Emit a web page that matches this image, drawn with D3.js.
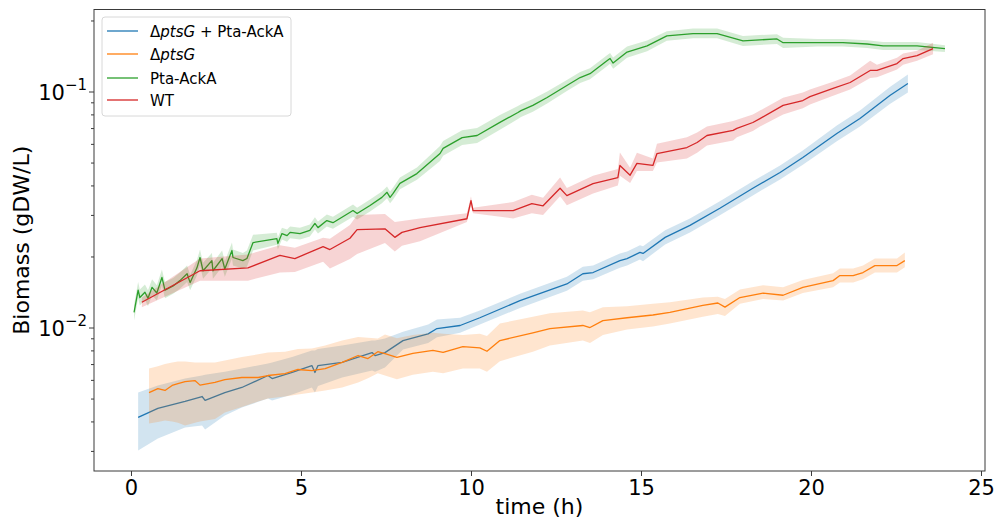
<!DOCTYPE html>
<html><head><meta charset="utf-8">
<script src="https://d3js.org/d3.v7.min.js"></script>
<style>body{margin:0;background:#fff}svg{display:block;font-family:"DejaVu Sans",sans-serif}</style>
</head><body><svg id="c" width="995" height="520"></svg>
<script>
// ---- data ----
const seriesNames = ["ΔptsG + Pta-AckA", "ΔptsG", "Pta-AckA", "WT"];
const colors = ["#1f77b4", "#ff7f0e", "#2ca02c", "#d62728"];
const xTicks = [0, 5, 10, 15, 20, 25];
const yTicks = [0.01, 0.1];
const yTickLabels = ["−2", "−1"];

const tBlue  = [0.21,0.79,1.59,2.09,2.18,2.76,3.26,4.03,4.15,4.74,5.32,5.41,5.5,6.21,7.09,7.18,7.47,8.0,8.74,9.0,9.68,10.26,11.44,12.82,13.29,13.59,14.38,14.59,14.97,15.06,15.71,16.44,17.32,18.29,19.09,19.76,20.76,21.44,22.32,22.85];
const vBlue  = [0.00416,0.00454,0.00486,0.00510,0.00491,0.00530,0.00557,0.00626,0.00608,0.00645,0.00690,0.00645,0.00690,0.00711,0.00783,0.00761,0.00783,0.0088,0.0094,0.0099,0.0102,0.0110,0.0130,0.0153,0.0169,0.0171,0.0192,0.0196,0.0208,0.0206,0.0241,0.0271,0.0320,0.0389,0.0454,0.0525,0.0664,0.0768,0.0962,0.1081];
const loBlue = [0.00301,0.00339,0.00377,0.00384,0.00370,0.00424,0.00458,0.00500,0.00491,0.00520,0.00557,0.00530,0.00565,0.00614,0.00657,0.00650,0.00677,0.00807,0.0086,0.0091,0.0095,0.0103,0.0121,0.0143,0.0158,0.0160,0.0179,0.0183,0.0194,0.0191,0.0225,0.0253,0.0299,0.0363,0.0424,0.0490,0.0615,0.0710,0.0885,0.0990];
const hiBlue = [0.00530,0.00568,0.00608,0.00626,0.00630,0.00650,0.00670,0.00704,0.00711,0.00750,0.00799,0.0080,0.0081,0.00839,0.0088,0.0088,0.00898,0.0096,0.0103,0.0108,0.0110,0.0118,0.0139,0.0164,0.0181,0.0183,0.0206,0.0210,0.0223,0.0221,0.0258,0.0290,0.0343,0.0417,0.0486,0.0562,0.0717,0.0830,0.1045,0.1180];

const tOrange  = [0.53,0.79,1.0,1.21,1.38,1.59,1.88,2.03,2.47,2.76,3.26,3.74,4.03,4.53,4.91,5.32,5.71,6.21,6.68,6.97,7.26,7.47,7.82,8.29,8.88,9.18,9.76,10.26,10.47,10.85,11.82,12.32,13.29,13.5,13.88,14.59,15.35,15.85,16.82,17.26,17.47,17.91,18.59,19.18,19.76,20.65,20.85,21.24,21.53,21.88,22.53,22.76];
const vOrange  = [0.00530,0.00551,0.00541,0.00568,0.00579,0.00590,0.00596,0.00570,0.00585,0.00602,0.00614,0.00614,0.00626,0.00638,0.00664,0.00657,0.00670,0.00711,0.00761,0.00739,0.00790,0.00775,0.00748,0.00777,0.0080,0.00785,0.0083,0.0082,0.00793,0.0088,0.0095,0.0099,0.0102,0.0100,0.0107,0.0110,0.0113,0.0116,0.0124,0.0127,0.0122,0.0134,0.0140,0.0137,0.0148,0.0158,0.0166,0.0166,0.0171,0.0183,0.0183,0.0192];
const loOrange = [0.00392,0.00398,0.00404,0.00400,0.00395,0.00384,0.00395,0.00400,0.00410,0.00436,0.00460,0.00486,0.00500,0.00510,0.00520,0.00530,0.00541,0.00557,0.00585,0.00610,0.00640,0.00626,0.00604,0.0063,0.0065,0.0064,0.0067,0.0067,0.0065,0.0072,0.0079,0.0084,0.0088,0.0086,0.0093,0.0098,0.0101,0.0104,0.0111,0.0114,0.0112,0.0126,0.0132,0.0130,0.0140,0.0148,0.0155,0.0155,0.0160,0.0171,0.0171,0.0180];
const hiOrange = [0.00670,0.00685,0.00700,0.00710,0.00718,0.00718,0.00711,0.00711,0.00711,0.00725,0.00750,0.00770,0.00783,0.00790,0.00810,0.00815,0.00839,0.00881,0.00911,0.00905,0.00898,0.00933,0.0090,0.0093,0.0095,0.0094,0.0093,0.0094,0.0092,0.0104,0.0111,0.0115,0.0118,0.0116,0.0122,0.0123,0.0126,0.0128,0.0134,0.0135,0.0132,0.0145,0.0151,0.0148,0.0159,0.0170,0.0178,0.0178,0.0183,0.0196,0.0196,0.0208];

const tGreen  = [0.09,0.21,0.26,0.41,0.50,0.62,0.76,0.91,1.00,1.24,1.44,1.65,1.74,1.94,2.03,2.12,2.38,2.41,2.68,2.76,2.97,3.0,3.29,3.41,3.59,
                 4.29,4.32,4.44,4.59,4.68,4.97,5.26,5.41,5.5,5.76,5.94,6.53,6.65,7.03,7.38,7.53,7.62,7.71,7.91,8.41,
                 9.09,9.18,9.74,10.18,10.85,11.38,11.47,11.82,12.24,
                 12.82,13.21,13.5,14.0,14.09,14.18,14.59,15.18,15.76,16.53,17.24,18.0,19.0,19.18,20.18,20.94,21.65,22.12,23.12,23.94];
const vGreen  = [0.0116,0.0144,0.0134,0.0141,0.0133,0.0148,0.0140,0.0163,0.0144,0.0150,0.0158,0.0169,0.0155,0.0179,0.0198,0.0174,0.0192,0.0174,0.0196,0.0177,0.0212,0.0198,0.0192,0.0196,0.0229,
                 0.0238,0.0227,0.0250,0.0245,0.0253,0.0250,0.0258,0.0276,0.0265,0.0284,0.0278,0.0313,0.0304,0.0329,0.0356,0.0374,0.0356,0.0370,0.0408,0.0449,
                 0.0546,0.0574,0.0638,0.0651,0.0740,0.0815,0.0830,0.0873,0.0943,
                 0.106,0.1146,0.119,0.135,0.138,0.132,0.147,0.156,0.172,0.176,0.176,0.164,0.167,0.161,0.161,0.161,0.159,0.156,0.156,0.152];
const loGreen = [0.0107,0.0133,0.0124,0.0131,0.0123,0.0137,0.0130,0.0151,0.0133,0.0139,0.0146,0.0156,0.0144,0.0166,0.0183,0.0161,0.0178,0.0161,0.0181,0.0164,0.0196,0.0183,0.0178,0.0181,0.0212,
                 0.0224,0.0214,0.0236,0.0231,0.0239,0.0236,0.0243,0.0260,0.0250,0.0268,0.0262,0.0295,0.0287,0.0310,0.0336,0.0353,0.0336,0.0349,0.0385,0.0423,
                 0.0508,0.0534,0.0593,0.0605,0.0688,0.0765,0.0780,0.0820,0.0890,
                 0.1005,0.1086,0.1128,0.128,0.131,0.125,0.139,0.148,0.164,0.168,0.168,0.156,0.159,0.153,0.155,0.155,0.153,0.150,0.150,0.147];
const hiGreen = [0.0125,0.0156,0.0145,0.0152,0.0144,0.0160,0.0151,0.0176,0.0156,0.0162,0.0171,0.0183,0.0167,0.0193,0.0214,0.0188,0.0207,0.0188,0.0212,0.0191,0.0229,0.0214,0.0207,0.0212,0.0247,
                 0.0252,0.0241,0.0265,0.0260,0.0268,0.0265,0.0273,0.0293,0.0281,0.0301,0.0295,0.0332,0.0322,0.0349,0.0377,0.0396,0.0377,0.0392,0.0432,0.0476,
                 0.0587,0.0617,0.0686,0.0700,0.0796,0.0868,0.0883,0.0930,0.0999,
                 0.1118,0.1209,0.1255,0.1424,0.1456,0.1393,0.155,0.1646,0.180,0.185,0.185,0.172,0.175,0.169,0.167,0.167,0.165,0.162,0.162,0.157];

const tRed  = [0.32,2.03,3.44,4.38,4.82,5.65,5.85,6.44,6.65,7.47,7.76,7.97,8.5,9.88,10.0,10.06,11.24,11.79,12.12,12.62,12.82,13.59,14.32,14.38,14.68,14.88,15.35,15.47,16.35,16.65,16.94,17.71,17.82,18.29,18.5,19.18,19.76,19.97,20.65,21.15,21.74,21.94,22.53,22.71,23.12,23.59];
const vRed  = [0.0128,0.0174,0.0179,0.0202,0.0196,0.0220,0.0214,0.0239,0.0260,0.0262,0.0241,0.0253,0.0265,0.0289,0.0345,0.0313,0.0313,0.0335,0.0328,0.0389,0.0362,0.0407,0.0432,0.0486,0.0442,0.0496,0.0486,0.0546,0.0579,0.0608,0.0651,0.0684,0.0698,0.0739,0.0768,0.0873,0.0916,0.0952,0.1030,0.1092,0.1228,0.1228,0.1314,0.1379,0.1420,0.1521];
const loRed = [0.0122,0.0158,0.0158,0.0171,0.0172,0.0190,0.0178,0.0195,0.0205,0.0228,0.0210,0.0222,0.0232,0.0280,0.0330,0.0305,0.0290,0.0305,0.0300,0.0360,0.0330,0.0370,0.0400,0.0440,0.0410,0.0460,0.0460,0.0500,0.0520,0.0550,0.0590,0.0620,0.0640,0.0680,0.0710,0.0800,0.0850,0.0880,0.0960,0.1020,0.1140,0.1150,0.1240,0.1300,0.1350,0.1440];
const hiRed = [0.0134,0.0196,0.0204,0.0223,0.0218,0.0240,0.0238,0.0272,0.0300,0.0303,0.0280,0.0283,0.0290,0.0305,0.0360,0.0322,0.0340,0.0365,0.0355,0.0432,0.0390,0.0440,0.0470,0.0551,0.0475,0.0550,0.0520,0.0600,0.0640,0.0670,0.0710,0.0750,0.0760,0.0800,0.0830,0.0940,0.0990,0.1020,0.1100,0.1170,0.1350,0.1300,0.1390,0.1450,0.1490,0.1610];

const seriesT  = [tBlue, tOrange, tGreen, tRed];
const seriesV  = [vBlue, vOrange, vGreen, vRed];
const seriesLo = [loBlue, loOrange, loGreen, loRed];
const seriesHi = [hiBlue, hiOrange, hiGreen, hiRed];

// ---- layout ----
const svg = d3.select("#c");
const L = 94, R = 985, T = 9.5, B = 471;
const x = d3.scaleLinear().domain([-1.088, 25.118]).range([L, R]);
const y = d3.scaleLog().domain([0.002466, 0.2226]).range([B, T]);

const g = svg.append("g");
seriesT.forEach((ts, i) => {
  const pts = ts.map((t, j) => ({t, v: seriesV[i][j], lo: seriesLo[i][j], hi: seriesHi[i][j]}));
  g.append("path").datum(pts)
    .attr("d", d3.area().x(d => x(d.t)).y0(d => y(d.lo)).y1(d => y(d.hi)))
    .attr("fill", colors[i]).attr("fill-opacity", 0.2).attr("stroke", "none");
  g.append("path").datum(pts)
    .attr("d", d3.line().x(d => x(d.t)).y(d => y(d.v)))
    .attr("fill", "none").attr("stroke", colors[i]).attr("stroke-width", 1.3)
    .attr("stroke-linejoin", "round");
});

// axes frame
svg.append("rect").attr("x", L).attr("y", T).attr("width", R - L).attr("height", B - T)
  .attr("fill", "none").attr("stroke", "#3a3a3a").attr("stroke-width", 1);

// x axis
const xa = svg.append("g").attr("transform", `translate(0,${B})`)
  .call(d3.axisBottom(x).tickValues(xTicks).tickFormat(d3.format("d")).tickSizeOuter(0).tickSize(5).tickPadding(4));
xa.select(".domain").remove();
xa.selectAll("line").attr("stroke", "#3a3a3a");
xa.selectAll("text").attr("font-size", 21).attr("fill", "#000").attr("font-family", "DejaVu Sans");

// y minor ticks
const minor = [];
[0.001, 0.01, 0.1].forEach(dec => { for (let k = 2; k <= 9; k++) { const v = dec * k; if (v > y.domain()[0] && v < y.domain()[1]) minor.push(v); } });
const ya = svg.append("g").attr("transform", `translate(${L},0)`);
ya.call(d3.axisLeft(y).tickValues(minor).tickFormat("").tickSize(3).tickSizeOuter(0));
ya.select(".domain").remove();
ya.selectAll("line").attr("stroke", "#3a3a3a");
const yb = svg.append("g").attr("transform", `translate(${L},0)`);
yb.call(d3.axisLeft(y).tickValues(yTicks).tickFormat("").tickSize(5).tickSizeOuter(0));
yb.select(".domain").remove();
yb.selectAll("line").attr("stroke", "#3a3a3a");
yTicks.forEach((v, i) => {
  const t = svg.append("text").attr("x", 87).attr("y", y(v) + 8).attr("text-anchor", "end")
    .attr("font-size", 21).attr("fill", "#000");
  t.append("tspan").text("10");
  t.append("tspan").text(yTickLabels[i]).attr("font-size", 15).attr("dy", -10);
});

// axis labels
svg.append("text").attr("x", (L + R) / 2).attr("y", 514).attr("text-anchor", "middle")
  .attr("font-size", 22).attr("fill", "#000").text("time (h)");
svg.append("text").attr("transform", `translate(29,${(T + B) / 2}) rotate(-90)`).attr("text-anchor", "middle")
  .attr("font-size", 22).attr("fill", "#000").text("Biomass (gDW/L)");

// legend
const lg = svg.append("g");
lg.append("rect").attr("x", 102).attr("y", 17).attr("width", 189).attr("height", 99).attr("rx", 3)
  .attr("fill", "#fff").attr("fill-opacity", 0.8).attr("stroke", "#d8d8d8").attr("stroke-width", 1);
const rows = [31, 54, 78, 100];
seriesNames.forEach((name, i) => {
  lg.append("line").attr("x1", 107).attr("x2", 138).attr("y1", rows[i]).attr("y2", rows[i])
    .attr("stroke", colors[i]).attr("stroke-width", 1.3);
  const t = lg.append("text").attr("x", 150).attr("y", rows[i] + 5.5).attr("font-size", 15).attr("fill", "#000");
  if (name.startsWith("Δ")) {
    t.append("tspan").text("Δ");
    t.append("tspan").attr("font-style", "italic").text("ptsG");
    const rest = name.slice(5);
    if (rest) t.append("tspan").text(rest);
  } else {
    t.text(name);
  }
});
</script></body></html>
